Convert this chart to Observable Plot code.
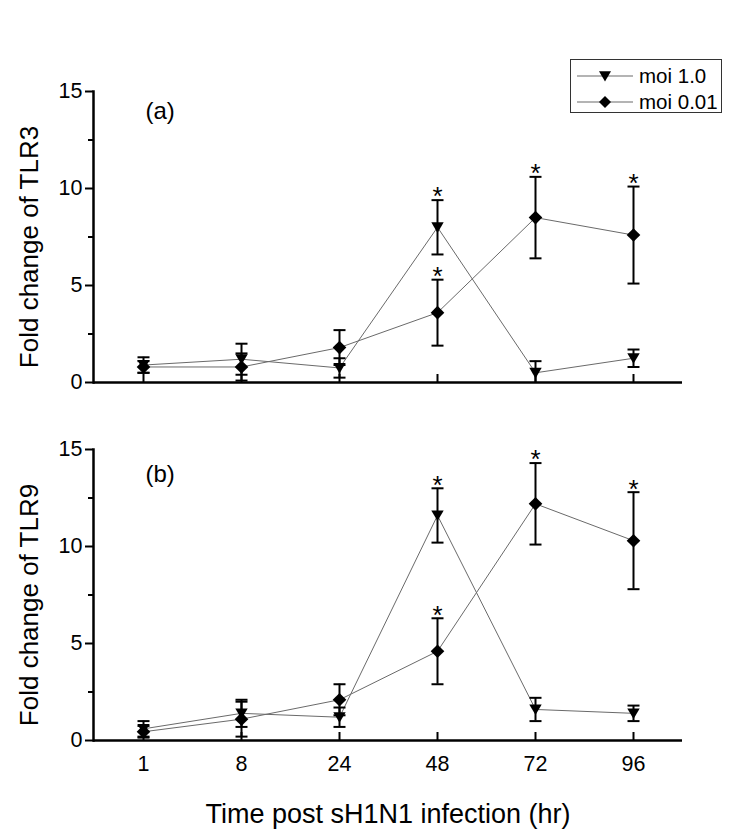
<!DOCTYPE html>
<html><head><meta charset="utf-8">
<script src="https://cdn.jsdelivr.net/npm/d3@7"></script>
<script src="https://cdn.jsdelivr.net/npm/@observablehq/plot@0.6"></script>
<style>
body{margin:0;background:#fff;font-family:"Liberation Sans",Arial,sans-serif;}
#wrap{position:relative;width:732px;height:835px;overflow:hidden;background:#fff;}
#pa{position:absolute;left:0;top:0}
#pb{position:absolute;left:0;top:400px}
#legend{position:absolute;left:570px;top:59px;width:152px;height:54px;border:1px solid #333;box-sizing:border-box;background:#fff;}
.lrow{position:absolute;left:0;height:26px;display:flex;align-items:center;font-size:20.5px;color:#000;white-space:nowrap;}
.lrow svg{margin-left:6px;margin-right:6px}
</style></head><body>
<div id="wrap"><div id="pa"></div><div id="pb"></div><div id="legend"></div></div>
<script>
const hours = ["1", "8", "24", "48", "72", "96"];
const series = ["moi 1.0", "moi 0.01"];
const tlr3_moi1 = [0.9, 1.2, 0.75, 8.0, 0.5, 1.25];
const tlr3_moi1_err = [0.4, 0.8, 0.5, 1.4, 0.6, 0.45];
const tlr3_moi001 = [0.8, 0.8, 1.8, 3.6, 8.5, 7.6];
const tlr3_moi001_err = [0.3, 0.7, 0.9, 1.7, 2.1, 2.5];
const tlr9_moi1 = [0.6, 1.4, 1.2, 11.6, 1.6, 1.4];
const tlr9_moi1_err = [0.4, 0.7, 0.5, 1.4, 0.6, 0.4];
const tlr9_moi001 = [0.45, 1.1, 2.1, 4.6, 12.2, 10.3];
const tlr9_moi001_err = [0.3, 0.9, 0.8, 1.7, 2.1, 2.5];
const sig_moi1 = [false, false, false, true, false, false];
const sig_moi001 = [false, false, false, true, true, true];
const yTicks = [0, 5, 10, 15];
const yMinor = [2.5, 7.5, 12.5];
const xTitle = "Time post sH1N1 infection (hr)";

const FONT = '"Liberation Sans", Arial, sans-serif';

const triDown = {draw(ctx, size) {
  const r = Math.sqrt(size / Math.PI);
  ctx.moveTo(-r, -r * 0.8); ctx.lineTo(r, -r * 0.8); ctx.lineTo(0, r * 0.9); ctx.closePath();
}};
const diamond = {draw(ctx, size) {
  const r = Math.sqrt(size / Math.PI);
  ctx.moveTo(0, -r); ctx.lineTo(r, 0); ctx.lineTo(0, r); ctx.lineTo(-r, 0); ctx.closePath();
}};
const capSym = {draw(ctx, size) {
  const r = Math.sqrt(size / Math.PI);
  ctx.moveTo(-r, 0); ctx.lineTo(r, 0);
}};

function rows(m1, e1, m2, e2) {
  const out = [];
  hours.forEach((h, i) => {
    out.push({hour: h, series: series[0], value: m1[i], err: e1[i], sig: sig_moi1[i]});
    out.push({hour: h, series: series[1], value: m2[i], err: e2[i], sig: sig_moi001[i]});
  });
  return out;
}

function panel({data, ylabel, tag, tagDy, height, marginTop, marginBottom, bottomLabels}) {
  const hi = d => d.value + d.err;
  const lo = d => Math.max(0, d.value - d.err);
  const marks = [
    Plot.line(data, {x: "hour", y: "value", z: "series", stroke: "#6a6a6a", strokeWidth: 1}),
    Plot.ruleX(data, {x: "hour", y1: lo, y2: hi, stroke: "black", strokeWidth: 2}),
    Plot.dot(data, {x: "hour", y: hi, symbol: capSym, r: 6, stroke: "black", strokeWidth: 2, fill: "none"}),
    Plot.dot(data.filter(d => d.value - d.err > 0), {x: "hour", y: lo, symbol: capSym, r: 6, stroke: "black", strokeWidth: 2, fill: "none"}),
    Plot.dot(data.filter(d => d.series === series[0]), {x: "hour", y: "value", symbol: triDown, r: 6.2, fill: "black", stroke: "none"}),
    Plot.dot(data.filter(d => d.series === series[1]), {x: "hour", y: "value", symbol: diamond, r: 6.8, fill: "black", stroke: "none"}),
    Plot.text(data.filter(d => d.sig), {x: "hour", y: hi, text: () => "*", fontSize: 26, dy: -3, fill: "black"}),
    Plot.frame({anchor: "left", stroke: "black", strokeWidth: 2.5}),
    Plot.ruleY([0], {stroke: "black", strokeWidth: 2.5}),
    Plot.axisY({ticks: yTicks, tickSize: 8, tickPadding: 3, fontSize: 21.5, strokeWidth: 2, label: null}),
    Plot.axisY({ticks: yMinor, tickSize: 5, tickFormat: () => "", strokeWidth: 2, label: null}),
    Plot.axisX({tickSize: 8, dy: -8, tickFormat: () => "", strokeWidth: 2, label: null}),
    Plot.text([ylabel], {frameAnchor: "left", text: d => d, rotate: -90, textAnchor: "middle", lineAnchor: "middle", dx: -64, dy: 10, fontSize: 26, fill: "black"}),
    Plot.text([tag], {frameAnchor: "top-left", text: d => d, dx: 52, dy: tagDy, fontSize: 24, textAnchor: "start", lineAnchor: "middle", fill: "black"})
  ];
  if (bottomLabels) {
    marks.push(Plot.axisX({tickSize: 0, tickPadding: 15, fontSize: 21.5, label: null}));
    marks.push(Plot.text([xTitle], {frameAnchor: "bottom", text: d => d, textAnchor: "middle", lineAnchor: "middle", dy: 74, fontSize: 27, fill: "black"}));
  }
  return Plot.plot({
    width: 732, height, marginLeft: 93, marginRight: 50, marginTop, marginBottom,
    style: {fontFamily: FONT, background: "white", color: "black", overflow: "visible"},
    x: {type: "point", domain: hours, padding: 0.5},
    y: {domain: [0, 15]},
    marks
  });
}

document.getElementById("pa").appendChild(panel({
  data: rows(tlr3_moi1, tlr3_moi1_err, tlr3_moi001, tlr3_moi001_err),
  ylabel: "Fold change of TLR3", tag: "(a)", tagDy: 20,
  height: 400, marginTop: 91, marginBottom: 18, bottomLabels: false
}));
document.getElementById("pb").appendChild(panel({
  data: rows(tlr9_moi1, tlr9_moi1_err, tlr9_moi001, tlr9_moi001_err),
  ylabel: "Fold change of TLR9", tag: "(b)", tagDy: 25,
  height: 435, marginTop: 49, marginBottom: 95, bottomLabels: true
}));

// legend
const leg = document.getElementById("legend");
[triDown, diamond].forEach((sym, i) => {
  const row = document.createElement("div");
  row.className = "lrow";
  row.style.top = (3 + i * 26) + "px";
  const svg = d3.create("svg").attr("width", 56).attr("height", 20);
  svg.append("line").attr("x1", 0).attr("x2", 56).attr("y1", 10).attr("y2", 10).attr("stroke", "#6a6a6a").attr("stroke-width", 1.2);
  svg.append("path").attr("transform", "translate(28,10)").attr("d", d3.symbol(sym, Math.PI * 36)()).attr("fill", "black");
  row.appendChild(svg.node());
  const t = document.createElement("span");
  t.textContent = series[i];
  row.appendChild(t);
  leg.appendChild(row);
});
</script>
</body></html>
